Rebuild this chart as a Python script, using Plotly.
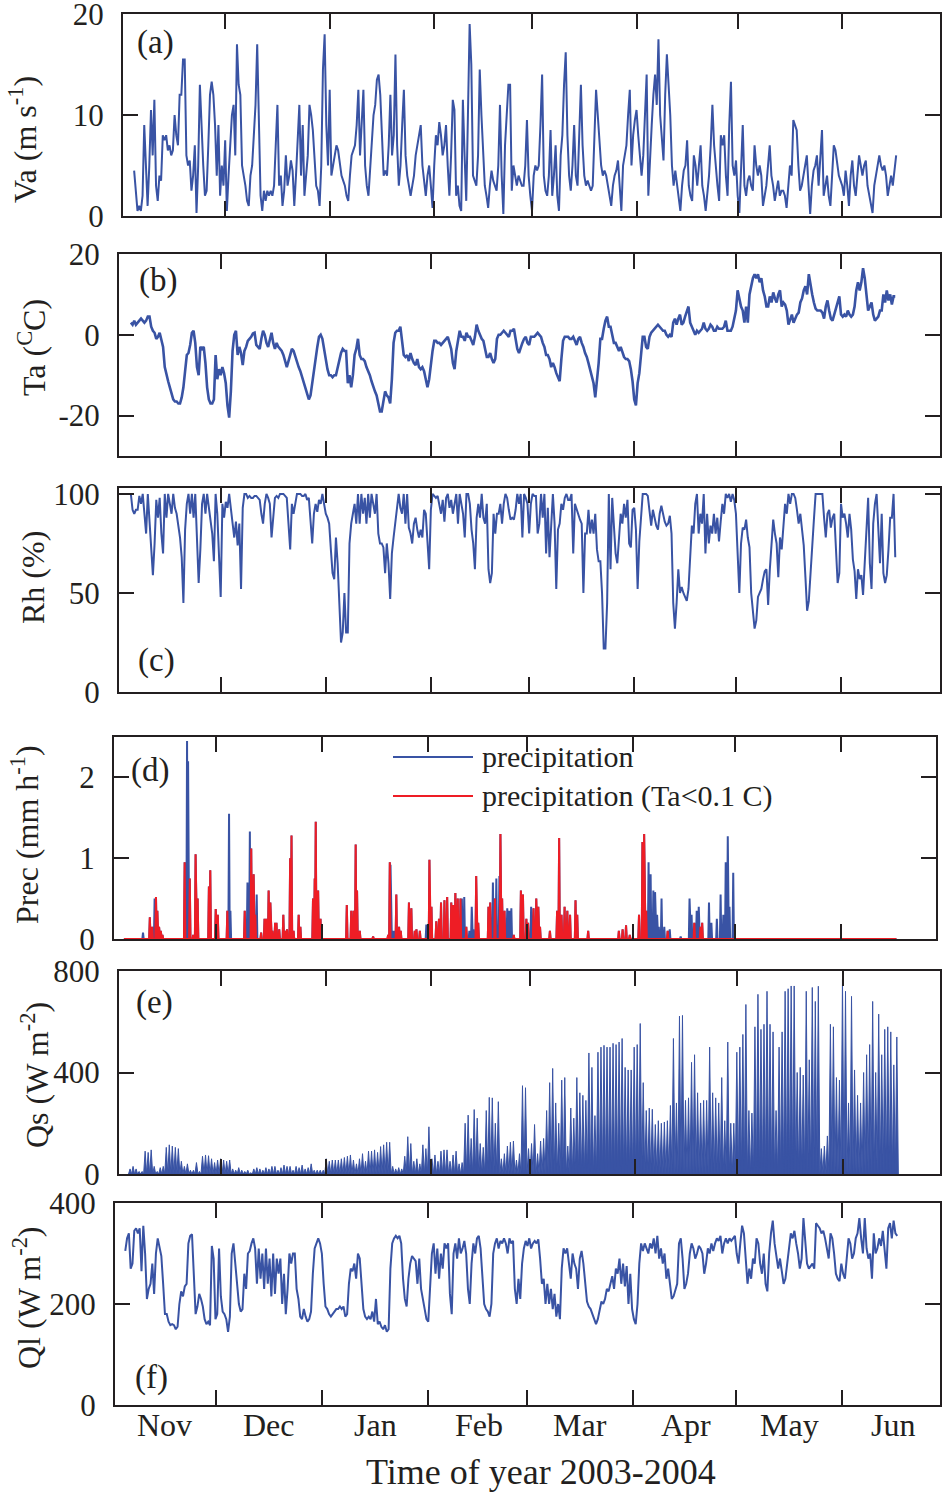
import numpy as np
import plotly.graph_objects as go

BLUE = "#3953A4"
RED = "#EE1D25"
INK = "#231F20"
FONT = "Liberation Serif, Times New Roman, serif"
W, H = 943, 1492

# ---------------- data (days since 1 Nov 2003) ----------------
month_edges = [30, 61, 92, 121, 152, 182, 213]
month_mid = [15, 45.5, 76.5, 107, 136.5, 167.5, 197.5, 228]
month_names = ["Nov", "Dec", "Jan", "Feb", "Mar", "Apr", "May", "Jun"]

# (a) wind speed, m/s, 12-hourly
va_t0, va_t1 = 3.0, 229.0
va = [4.5,2,0.5,1,0.5,2,9,5,1,5,10.5,6,11.5,3,1.5,4,3.5,8,7.5,8,6.5,7,6,6.5,10,8,7,12,12,15.5,15.5,6,5,5.5,2.5,4,7,0.3,5,13,8,5,2,2.5,7,12,13.3,12,9,4,9,2,5,3,7.5,0.5,4,7,10,11,6,17,13,12,5,4,3,1.5,1,4,5,8,11,17,8,2,0.5,2.5,1.5,2.5,2,2.5,2,3,7,11,3,4,1,2.5,6,3,4,5.5,4.5,1,4,7,11,4,9,2,4,6,11,10,8.5,6,3,2.5,1,5,14.5,18,9,5,12.5,4,5,6,7,6.5,5,4,3.5,3,2,1.5,4,6,6.5,7,9,12.5,6,9,12.5,5,3,2,5,7,10,11,13.5,14,12,8,4,4.5,4,7,12,6,8,16,7,3,5,9,12.5,6,4,3,2,3,4,6,7,8,9,5,3.5,2,4,5,3,0.8,5,8,7,9.3,8,6,7,9,5,2,6,11.5,10.5,2,3,1,0.5,11.5,6,1.5,10,19,15,4,3.5,3,6,14.5,10,7,3,2,0.8,3,4.5,3.5,3,2.5,5,11,4,0.2,7,10,13,13,2.5,5,4,3,4,3.5,3,3,5,9.5,4,2,0.5,4,5,4.5,5,9,14,4,2.5,2,4,8.5,2,4,7,2,0.5,6,8,13,16.2,8,4,2.5,5,9,4,3,8,13,7,4,3,3.5,3,2.5,3,9,12.5,10,7,5,4,4.5,4,3,2,1,3,4,4.5,5.5,3,0.5,5,6,7,10,12.5,5,8,9.5,10.5,8,6,4,6,11,14,2,6,9,12,14,11,17.5,10,8,5.5,12,16,13,10,5,3,4.5,3,1.5,0.5,3,4.5,5,7.5,3,2,1.5,6,5,3,5,7,3,2,0.5,2,4,7,11,7,4.5,3,1.5,8,7,8,4,2,9,13.3,5,4,5.5,2,0.3,4,9,3,2,3.5,4,3,2.5,7,5,4,5,4,1,2,3,5,7,4,3,1.5,2.5,3.5,2,2.5,2.5,2,0.8,3,5,4,9.5,9,8.5,5,2.5,3,4,5,6,3,0.2,3,4.5,5,6,3,6,8.5,2,3,4,2,1,4,7,6.5,5,4,3.5,3,2,4.5,3,1,4,5.5,3,2,4,6,5,4,5,5.5,3,2,1,0.3,3,4,5,6,5,4.5,5,4,2,3,4,3,4.5,6]

# (b) air temperature, deg C, 12-hourly
ta_t0, ta_t1 = 3.5, 229.0
ta = [3,2.5,3.5,2.5,3,3.5,4,3.5,3,3.5,4.5,4.5,2,1,0.5,-1,-0.5,0.5,-1.5,-3,-8,-10,-11.5,-13,-14.5,-16,-16.5,-16.5,-17,-17,-15.5,-13,-9,-5,-4.5,-2.5,0.5,1,-2,-8,-10,-3,-3.5,-3,-7,-13,-16,-17,-17,-16,-5,-11,-8.5,-10,-8,-9.5,-12,-17.5,-20.5,-14,-4,0,1,-5,-3,-4.5,-7.5,-4,-3,-1.5,-1,-0.5,0.3,0.5,-2.5,-3,-3.5,-1,1,0,-2,-3,-1,0.5,-2,-3.5,-2,-3,-3.5,-4,-5,-6.5,-8,-6.5,-5,-3.5,-4,-5.5,-6.5,-8,-9,-10.5,-12,-13.5,-15,-16,-15,-12,-9,-5,-3,-0.5,0,-1,-3.5,-7,-8.5,-10,-10,-10.5,-10,-10,-8,-6,-4.5,-3.5,-4,-4,-12,-10,-13,-10,-5,-3.5,-1,-5,-6,-6,-6.5,-8,-9,-10,-11.5,-13,-14,-15,-17,-19,-19,-16,-14,-15,-15.5,-17,-11,-2,0.5,1,1,2,-2,-5,-5.5,-5,-6.5,-4.5,-6,-7,-7.5,-6,-8,-8.5,-8,-9,-11,-13,-11,-7,-4,-1.5,-1.5,-2,-2,-2.5,-2,-1.5,-1,-0.5,-2,-3.5,-7,-8.5,-4,-1,1,-0.5,-0.5,-1.5,0.5,-0.5,-0.5,-1.5,-2.5,-0.5,2.5,1,0,-1,-1.5,-3.5,-5.5,-5.5,-4.5,-6,-7,-6,-1,0,0,0.5,1,0.5,0,-0.5,1,1,1.5,-1,-3.5,-4.5,-3,-2,-1,-0.5,-2,-2.5,-0.5,-0.5,-0.5,0,0.5,0,-0.5,-2,-3,-5,-5,-6,-8,-7,-8,-9.5,-10.5,-11.5,-6,-1.5,-0.5,-0.5,-0.5,-1,-1,-0.5,-1.5,-2.5,-1,-0.5,-2,-3,-4.5,-5.5,-7,-8.5,-10,-12,-15.5,-12,-7,-1,-1,1.5,3.5,4.5,2,2,-0.5,-2,-2,-3,-4,-3,-4.5,-5.5,-6,-6,-6.5,-8.5,-11.5,-16,-17.5,-12,-9.5,-4.5,-0.5,-0.5,-3,-3.5,-0.5,0.5,1,1.5,2,2.5,2,1.5,1,1,0,-0.5,0,-0.5,3,4,2.5,4,5,2.5,3,4.5,6,7,3,2,1,0,1,0.5,1,1.5,3,1.5,1,1.5,2.5,2,1,1,2,1.5,1.5,1.5,2,3.5,1,1,1,2,4,6,11,9,7,6,3,7,3,10,12,14,15,14,15,13,14,11,9.5,7,7,9.5,8,10.5,9,8,10,11,7,8,7.5,6,2.5,4,5,3,4,5,5.5,8,9,11,12,10,15,12,10,8,6.5,6,6,6,5.5,4,7,8.5,6,4,3.5,5,6.5,8,9.5,5,4.5,5,4.5,6,5,4.5,5,7,11,13,11,13,16.5,14,10,6,7,8,5,3.5,4,4.5,6,6,10,8,11,8.5,10,7.5,9.5,9.5]

# (c) relative humidity, %, 12-hourly
rh_t0, rh_t1 = 0.5, 229.0
rh = [100,100,100,100,100,100,100,92,90,92,92,99,95,100,88,80,100,85,70,59,75,97,88,98,80,70,100,88,100,95,90,100,93,90,85,78,68,45,82,95,100,90,100,88,100,78,55,72,95,100,90,100,93,85,80,66,100,90,70,48,95,88,96,93,100,92,86,78,86,74,85,52,93,100,100,98,99,98,98,99,99,98,97,90,85,95,100,98,95,78,88,98,99,98,100,100,100,99,98,85,72,95,90,95,100,100,100,99,99,100,97,98,85,75,90,95,91,97,95,100,95,90,88,85,72,60,57,78,65,42,25,30,50,30,30,75,85,90,95,85,100,85,100,90,98,85,100,88,100,95,90,100,80,75,75,73,60,75,65,47,70,78,85,95,100,93,90,100,85,100,83,80,75,85,88,82,78,82,78,92,90,76,62,92,100,99,98,99,95,90,97,86,98,100,93,97,90,95,100,85,100,95,90,78,100,100,95,82,75,62,88,95,88,100,88,85,95,62,55,60,90,80,90,90,95,85,95,100,98,92,87,88,87,92,100,95,100,78,100,98,95,80,95,100,99,99,80,85,100,88,100,70,93,68,88,100,85,52,82,85,95,92,98,100,97,97,100,70,95,92,90,87,85,50,80,80,92,80,87,80,90,72,66,66,50,22,22,45,100,62,98,85,70,65,80,90,85,95,88,97,75,73,92,93,82,52,76,87,100,100,100,99,90,84,92,88,84,82,90,94,90,86,84,85,89,80,45,32,45,62,50,53,50,48,46,52,72,84,80,95,100,80,90,85,100,70,90,75,84,80,90,80,88,76,86,95,90,100,98,100,96,100,97,90,70,50,75,83,82,87,78,73,50,42,32,36,48,50,52,57,61,62,44,62,78,87,80,75,58,78,72,83,95,90,100,95,100,100,98,92,85,90,80,74,58,41,46,62,76,87,100,100,100,100,100,88,78,90,92,83,88,90,68,55,60,95,88,90,85,78,90,82,67,61,47,62,57,59,49,64,85,98,65,52,85,95,100,80,65,90,60,55,59,72,88,88,100,68]

# (d) precipitation events: day, intensity (mm/h), cold flag (Ta < 0.1 C)
prec_t0, prec_t1 = 2.9, 229.2
prec_day = [8.5,10.5,11.2,11.9,12.3,12.7,13.2,13.7,14.2,20.7,21.4,21.7,22.2,23.2,23.9,24.5,27.8,28.2,29.8,30.4,33.2,33.7,34.1,38.3,39.1,39.8,40.2,40.9,41.4,41.8,43.1,44.1,44.6,45.3,45.8,46.4,47.2,47.6,48.4,49.6,50.2,50.7,51.6,52.0,52.6,54.1,54.6,58.3,58.8,59.1,59.8,60.5,68.2,69.5,70.2,70.8,71.2,72.0,75.9,80.3,80.8,81.0,81.6,82.2,82.7,83.5,84.0,86.4,87.1,88.1,88.6,89.6,91.5,92.4,93.0,94.4,95.2,95.8,96.8,97.6,98.8,99.4,100.0,100.7,101.5,101.9,102.6,103.2,104.1,104.8,105.3,106.1,106.7,109.7,110.2,111.0,111.6,112.0,112.9,113.2,113.7,114.4,115.2,115.8,116.4,117.1,119.2,119.8,120.8,121.3,122.2,122.9,123.7,124.3,124.8,127.7,129.8,130.4,131.1,132.0,132.8,133.6,135.2,135.7,138.9,147.9,149.0,150.0,151.1,153.8,154.8,155.3,155.9,156.6,157.2,158.0,158.5,159.1,159.6,160.4,161.2,162.2,162.8,166.0,168.6,169.2,170.0,170.7,171.3,171.8,172.3,174.3,175.0,176.6,177.7,178.5,179.2,179.8,180.3,181.4]
prec_val = [0.08,0.27,0.15,0.5,0.52,0.35,0.15,0.1,0.05,0.95,2.45,2.2,0.75,0.05,1.05,0.5,0.65,0.85,0.37,0.3,0.35,1.55,0.35,0.35,0.7,1.33,1.12,0.8,0.3,0.55,0.08,0.25,0.25,0.6,0.45,0.1,0.2,0.2,0.12,0.3,0.1,0.12,1.0,1.28,0.1,0.3,0.15,0.5,0.75,1.45,0.6,0.25,0.42,0.35,0.35,1.17,0.6,0.1,0.03,0.05,0.95,0.92,0.1,0.1,0.55,0.15,0.1,0.45,0.38,0.1,0.12,0.1,0.18,0.98,0.4,0.22,0.25,0.45,0.48,0.52,0.45,0.42,0.57,0.5,0.5,0.5,0.52,0.15,0.1,0.4,0.12,0.78,0.2,0.4,0.45,0.7,0.5,0.75,0.78,1.3,0.5,0.35,0.38,0.35,0.38,0.05,0.6,0.55,0.25,0.2,0.4,0.38,0.5,0.4,0.15,0.1,0.35,1.25,0.3,0.4,0.35,0.3,0.48,0.3,0.1,0.1,0.12,0.17,0.05,0.3,1.2,1.3,0.35,0.95,0.8,0.6,0.58,0.3,0.15,0.5,0.15,0.1,0.12,0.03,0.5,0.3,0.2,0.35,0.4,0.15,0.2,0.45,0.2,0.25,0.55,0.3,0.95,1.27,0.4,0.82]
prec_cold = [0,1,1,0,1,1,1,1,1,1,0,0,1,1,1,1,1,1,1,1,1,0,0,1,0,0,1,1,1,0,1,1,1,1,1,1,1,1,1,1,1,1,1,1,1,1,1,1,1,1,1,1,1,1,1,1,1,1,1,1,1,0,0,0,1,1,1,1,1,1,1,1,0,1,1,1,1,1,1,1,1,1,1,1,1,0,0,1,0,0,0,1,1,1,1,0,1,0,0,1,1,1,0,0,0,1,1,1,1,1,0,1,1,1,1,1,1,1,1,1,1,1,1,1,1,1,1,1,1,1,1,1,1,0,0,0,0,0,0,0,0,1,0,0,0,0,1,0,0,1,1,0,0,0,0,0,0,0,0,0]

# (e) shortwave radiation, daily peak values (W/m2); nights are zero
qs_t0, qs_t1 = 3.4, 228.9
qs_peak = [20,30,20,10,10,90,85,95,30,10,25,30,105,115,110,105,100,50,30,40,15,15,45,10,70,75,72,60,45,55,60,55,50,55,20,15,25,15,10,15,5,20,25,20,15,25,20,30,30,15,25,35,30,30,15,30,25,35,20,25,40,15,15,15,15,60,50,55,55,55,60,65,70,75,55,40,60,80,50,90,90,95,85,108,115,125,125,30,20,25,20,70,147,120,50,60,40,115,100,186,60,75,50,90,95,95,50,75,90,40,45,200,232,140,254,220,120,105,250,302,300,200,285,60,80,110,125,130,55,80,348,340,100,120,195,80,130,140,250,360,416,280,200,370,380,110,260,220,380,320,310,290,477,420,230,480,500,507,500,500,515,510,520,534,420,410,410,500,510,593,360,250,260,255,195,210,200,205,210,270,534,280,622,625,290,300,440,470,320,280,290,290,500,320,300,280,380,210,520,200,200,480,500,550,668,250,240,580,708,570,590,720,590,560,250,500,560,720,730,741,741,400,420,390,720,450,735,680,740,100,110,150,590,580,380,370,767,720,280,700,410,310,280,400,470,510,680,400,630,470,570,580,560,430,540]

# (f) longwave radiation, W/m2, ~12-hourly
ql_t0, ql_t1 = 3.5, 229.1
ql = [305,330,340,270,280,345,350,340,350,265,355,300,210,230,240,280,220,300,330,310,295,240,180,180,165,158,160,158,150,155,200,225,215,235,240,320,335,338,270,180,195,220,210,195,170,160,165,158,315,290,170,180,310,215,185,180,170,145,175,300,320,280,240,200,185,190,260,230,300,305,320,330,310,240,310,250,300,230,310,240,290,215,300,220,290,260,290,200,260,180,230,300,280,300,300,230,210,175,170,190,175,165,170,185,260,310,320,330,320,300,240,195,190,180,175,180,185,190,190,195,190,195,175,180,240,270,265,280,250,300,290,230,190,175,170,175,170,185,165,210,160,165,155,150,158,145,150,270,320,330,335,330,335,320,250,210,195,250,280,295,290,285,240,290,230,210,185,170,165,230,300,320,260,310,250,300,270,320,310,320,220,180,300,320,290,330,300,310,325,300,230,200,280,320,300,330,335,310,250,200,190,185,175,200,300,320,330,310,325,320,330,320,300,330,320,325,230,200,250,210,280,310,325,315,330,310,320,325,320,328,290,240,250,200,240,200,230,190,220,175,200,170,270,310,300,310,280,250,300,280,270,230,290,305,280,240,205,195,190,180,170,160,170,190,205,200,210,230,225,240,255,230,270,260,290,240,280,235,275,200,260,190,170,160,200,280,320,305,320,310,300,320,310,330,300,335,290,310,280,300,250,270,240,210,215,230,240,320,330,290,230,240,260,300,320,310,290,300,315,310,300,260,280,310,300,320,305,320,330,325,335,300,320,330,320,330,325,330,335,300,280,320,355,340,280,240,270,250,290,280,330,320,280,260,300,240,225,300,340,365,320,290,270,290,260,240,250,280,320,340,330,345,320,300,270,290,370,330,280,270,275,280,270,360,355,350,340,345,330,310,290,340,330,300,260,250,245,280,260,250,300,330,320,290,300,330,340,370,330,300,370,310,290,300,250,340,300,310,330,315,345,310,270,350,360,330,365,340,335]

# ---------------- helpers ----------------
def times(t0, t1, vals):
    return np.linspace(t0, t1, len(vals))

def spikes(days, vals, t0, t1, w=0.2):
    xs, ys = [t0], [0.0]
    for d, v in sorted(zip(days, vals)):
        xs += [d - w, d, d + w]
        ys += [0.0, v, 0.0]
    xs.append(t1); ys.append(0.0)
    return xs, ys

# panel layout in pixels: (left, right, top, bottom), y-range, y-ticks, x-range
panels = [
    dict(px=(123, 940, 14, 216), yr=[0, 20], yt=[0, 10, 20], xr=[-0.3, 242]),
    dict(px=(119, 940, 254, 456), yr=[-30, 20], yt=[-20, 0, 20], xr=[0, 242.2]),
    dict(px=(119, 940, 488, 692), yr=[0, 103], yt=[0, 50, 100], xr=[0, 242.2]),
    dict(px=(114, 936, 737, 939), yr=[0, 2.5], yt=[0, 1, 2], xr=[0, 240.8]),
    dict(px=(119, 940, 971, 1174), yr=[0, 800], yt=[0, 400, 800], xr=[0.15, 241.6]),
    dict(px=(115, 940, 1203, 1405), yr=[0, 400], yt=[0, 200, 400], xr=[0.5, 241.6]),
]

fig = go.Figure()

def add(i, x, y, color, width, fill=None):
    fig.add_trace(go.Scatter(x=x, y=y, mode="lines", showlegend=False,
                             line=dict(color=color, width=width),
                             fill=fill, fillcolor=color if fill else None,
                             xaxis=f"x{i}", yaxis=f"y{i}", hoverinfo="skip"))

add(1, times(va_t0, va_t1, va), va, BLUE, 2.0)
add(2, times(ta_t0, ta_t1, ta), ta, BLUE, 2.6)
add(3, times(rh_t0, rh_t1, rh), rh, BLUE, 2.0)

bx, by = spikes(prec_day, prec_val, prec_t0, prec_t1)
cold_d = [d for d, c in zip(prec_day, prec_cold) if c]
cold_v = [v for v, c in zip(prec_val, prec_cold) if c]
rx, ry = spikes(cold_d, cold_v, prec_t0, prec_t1)
add(4, bx, by, BLUE, 2.0)
add(4, rx, ry, RED, 2.0)

qt = times(qs_t0, qs_t1, qs_peak)
half = (qt[1] - qt[0]) / 2
qx = np.empty(2 * len(qt) + 1)
qy = np.zeros(2 * len(qt) + 1)
qx[0::2] = np.append(qt - half, qt[-1] + half)
qx[1::2] = qt
qy[1::2] = qs_peak
add(5, qx, qy, BLUE, 1.0, fill="tozeroy")

add(6, times(ql_t0, ql_t1, ql), ql, BLUE, 2.0)

layout = dict(width=W, height=H, margin=dict(l=0, r=0, t=0, b=0, pad=0, autoexpand=False),
              template="none",
              paper_bgcolor="white", plot_bgcolor="white",
              font=dict(family=FONT, size=30, color=INK), showlegend=False)

for i, p in enumerate(panels, start=1):
    l, r, t, b = p["px"]
    common = dict(showline=True, linewidth=2, linecolor=INK, mirror="ticks",
                  ticks="inside", ticklen=15, tickwidth=2, tickcolor=INK,
                  showgrid=False, zeroline=False, automargin=False)
    layout[f"xaxis{i}"] = dict(domain=[l / W, r / W], range=p["xr"], anchor=f"y{i}",
                               tickvals=month_edges, showticklabels=False, **common)
    layout[f"yaxis{i}"] = dict(domain=[1 - b / H, 1 - t / H], range=p["yr"], anchor=f"x{i}",
                               tickvals=p["yt"], ticktext=[str(v) for v in p["yt"]],
                               tickfont=dict(size=31, family=FONT, color=INK),
                               ticklabelstandoff=11, ticklabeloverflow="allow", **common)

fig.update_layout(**layout)

ann = []
def note(text, x, y, size=30, angle=0, xanchor="center"):
    ann.append(dict(text=text, x=x / W, y=1 - y / H, xref="paper", yref="paper",
                    showarrow=False, textangle=angle, xanchor=xanchor, yanchor="middle",
                    font=dict(family=FONT, size=size, color=INK)))

# panel letters
for lab, (x, y) in zip("abcdef", [(135, 43), (137, 280), (136, 660), (129, 770), (134, 1003), (133, 1377)]):
    note(f"({lab})", x, y, size=33, xanchor="left")

# y-axis titles
ytitles = ["Va (m s<sup>-1</sup>)", "Ta (<sup>C</sup>C)", "Rh (%)",
           "Prec (mm h<sup>-1</sup>)", "Qs (W m<sup>-2</sup>)", "Ql (W m<sup>-2</sup>)"]
for txt, (x, y) in zip(ytitles, [(23, 140), (32, 348), (33, 578), (25, 835), (35, 1075), (27, 1298)]):
    note(txt, x, y, size=32, angle=-90)

# month labels on the bottom panel
for m, name in zip(month_mid, month_names):
    ann.append(dict(text=name, x=m, y=1 - 1425 / H, xref="x6", yref="paper",
                    showarrow=False, xanchor="center", yanchor="middle",
                    font=dict(family=FONT, size=32, color=INK)))
note("Time of year 2003-2004", 541, 1472, size=36)

# legend for panel (d)
note("precipitation", 480, 757, size=30, xanchor="left")
note("precipitation (Ta&lt;0.1 C)", 480, 796, size=30, xanchor="left")
shapes = [
    dict(type="line", xref="paper", yref="paper", x0=393 / W, x1=473 / W,
         y0=1 - 757 / H, y1=1 - 757 / H, line=dict(color=BLUE, width=2)),
    dict(type="line", xref="paper", yref="paper", x0=393 / W, x1=473 / W,
         y0=1 - 796 / H, y1=1 - 796 / H, line=dict(color=RED, width=2)),
]
fig.update_layout(annotations=ann, shapes=shapes)

fig.write_html("out.html", config={"displayModeBar": False},
               post_script="document.body.style.margin='0';document.body.style.overflow='hidden';")
